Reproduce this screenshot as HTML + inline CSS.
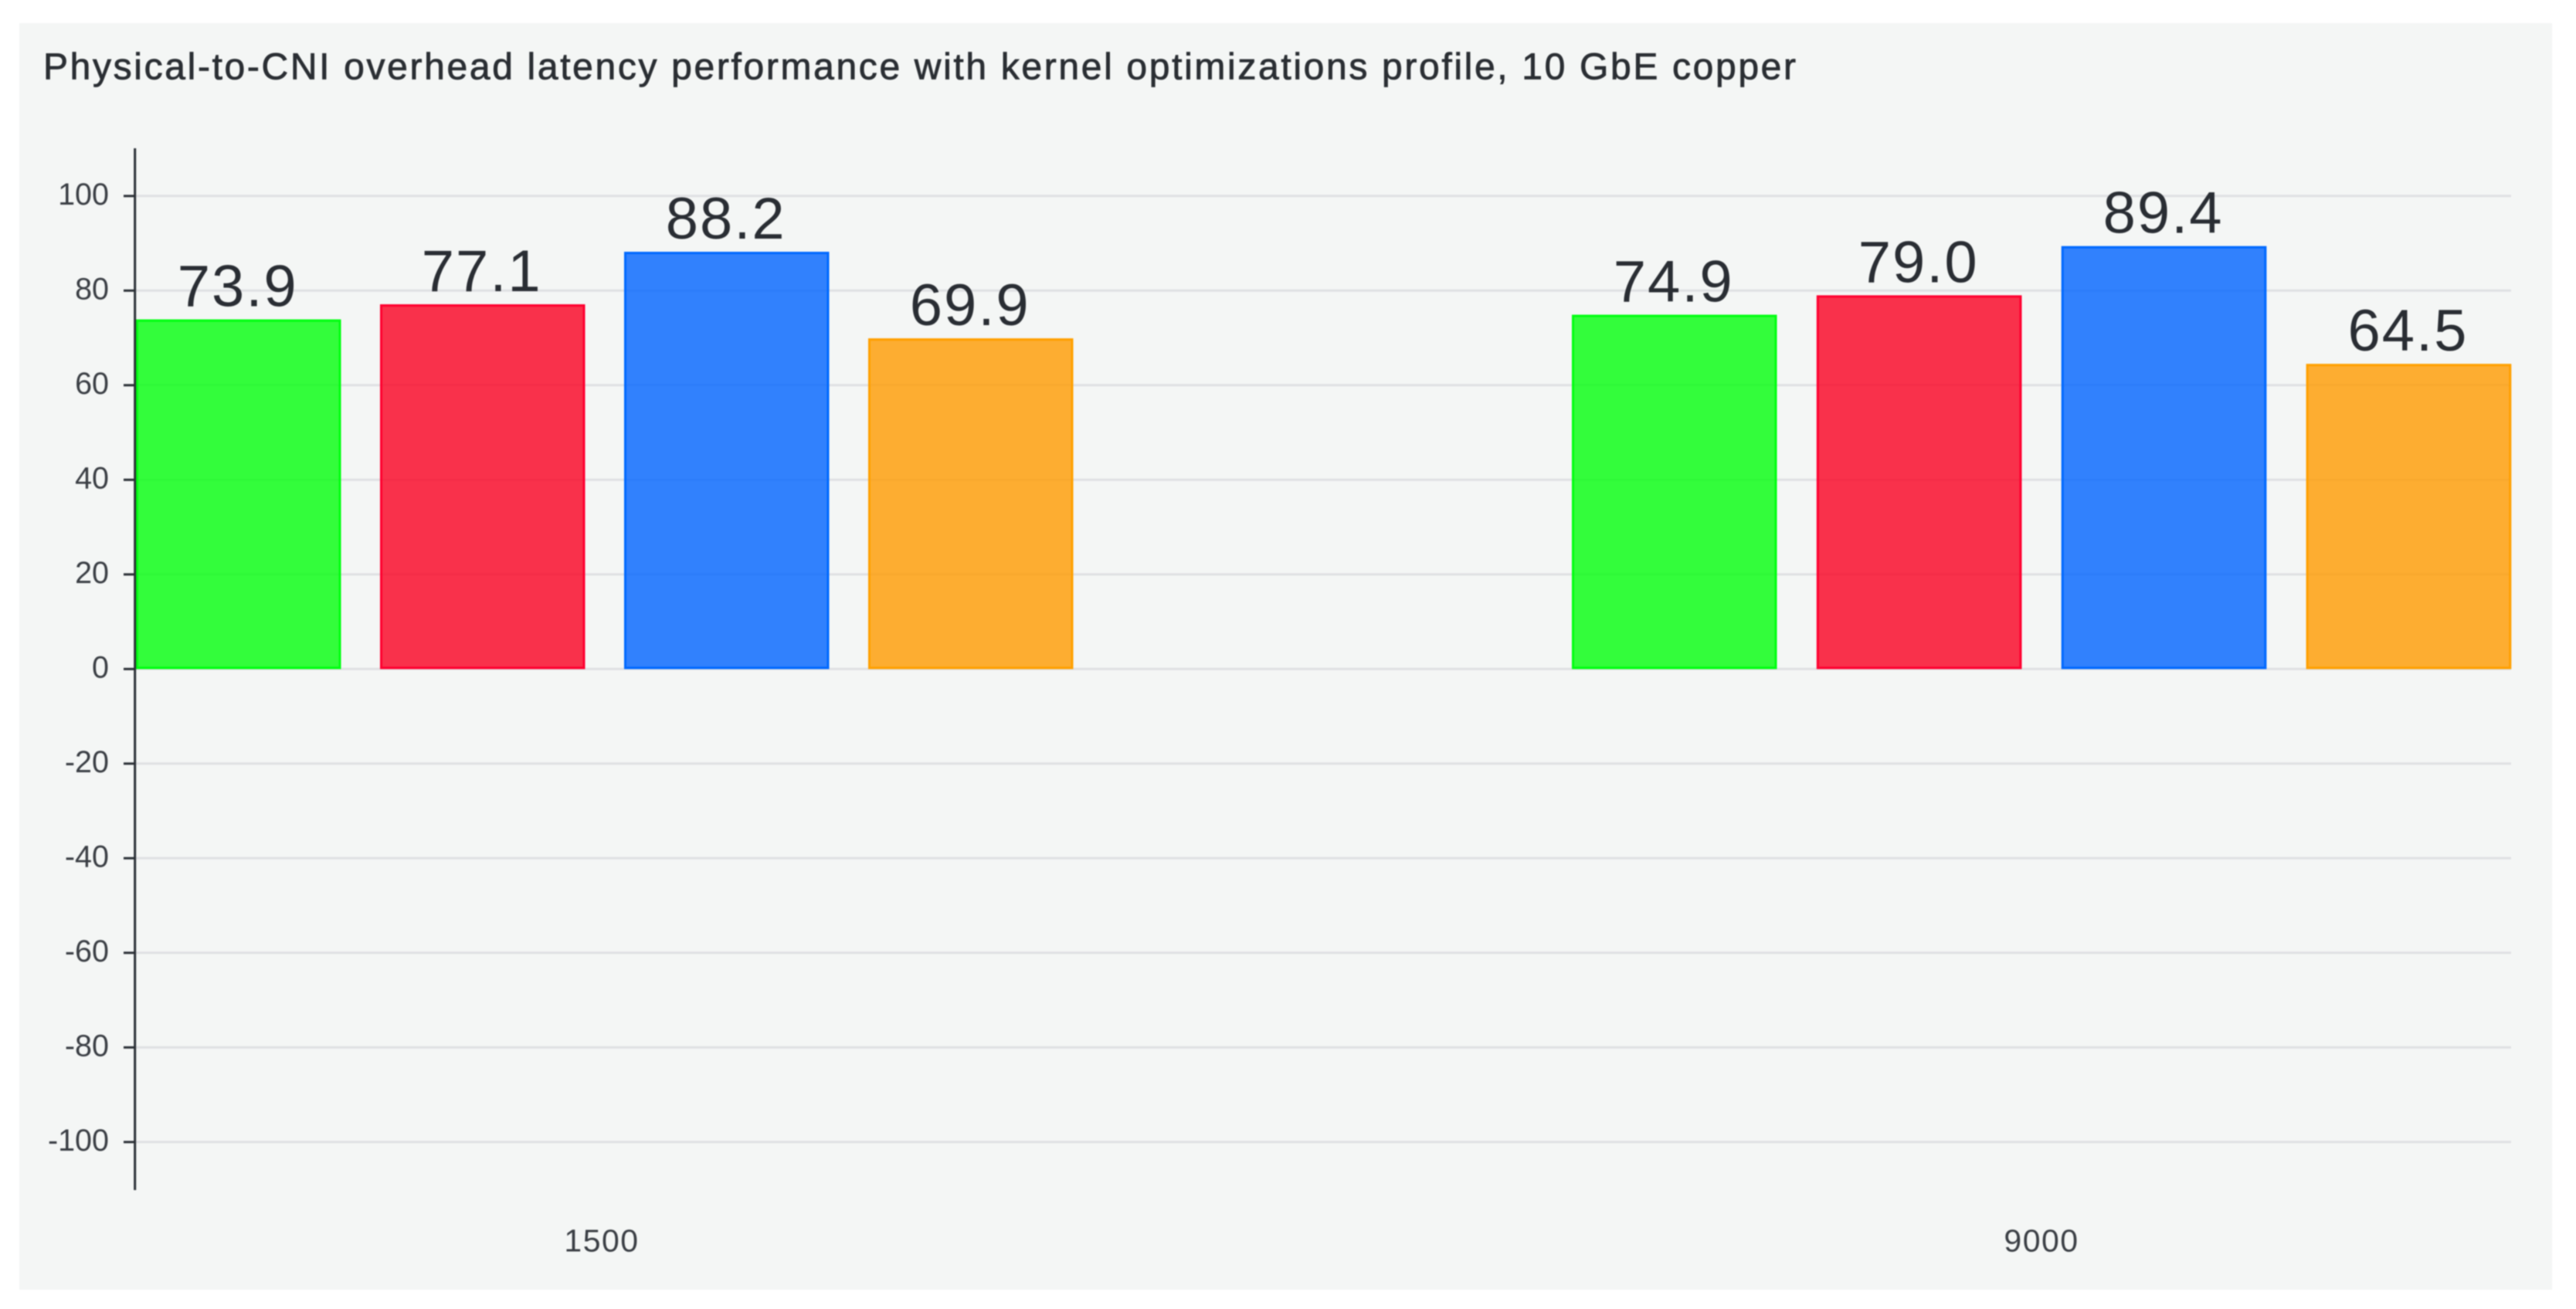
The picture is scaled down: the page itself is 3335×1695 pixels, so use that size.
<!DOCTYPE html>
<html lang="en">
<head>
<meta charset="utf-8">
<title>Physical-to-CNI overhead latency performance</title>
<style>
  html, body { margin: 0; padding: 0; background: #ffffff; width: 3335px; height: 1695px; overflow: hidden; }
  svg { display: block; filter: blur(0.7px); }
  text { font-family: "Liberation Sans", Arial, sans-serif; }
</style>
</head>
<body>
<svg id="chart" xmlns="http://www.w3.org/2000/svg" width="3335" height="1695" viewBox="0 0 3335 1695">
  <rect x="25" y="30" width="3279" height="1640" fill="#f4f6f5"></rect>
  <text x="56" y="102.5" font-size="48" fill="#2a2e33" stroke="#2a2e33" stroke-width="0.8" textLength="2269" lengthAdjust="spacing">Physical-to-CNI overhead latency performance with kernel optimizations profile, 10 GbE copper</text>
  <g id="grid"></g>
  <g id="bars"></g>
  <g id="labels"></g>
  <g id="y-axis"></g>
  <g id="x-axis"></g>
</svg>
<script>
const categories = ["1500", "9000"];
const seriesGreen = [73.9, 74.9];
const seriesRed = [77.1, 79.0];
const seriesBlue = [88.2, 89.4];
const seriesOrange = [69.9, 64.5];
const yTicks = [100, 80, 60, 40, 20, 0, -20, -40, -60, -80, -100];

const NS = "http://www.w3.org/2000/svg";
const allSeries = [
  { key: "green", values: seriesGreen, fill: "rgba(3,255,13,0.8)", stroke: "#00ff10" },
  { key: "red", values: seriesRed, fill: "rgba(250,0,32,0.8)", stroke: "#ff0030" },
  { key: "blue", values: seriesBlue, fill: "rgba(0,100,255,0.8)", stroke: "#0069ff" },
  { key: "orange", values: seriesOrange, fill: "rgba(255,155,0,0.8)", stroke: "#ffa000" }
];

function yScale(v) { return 866.3 - 6.125 * v; }
function groupStart(i) { return 176 + 1859 * i; }
function barX(i, j) { return groupStart(i) + (316 + 0.9 * i) * j; }
function categoryLabelX(i) { return 779 + 1864 * i; }
const barWidth = 265.5;
const plotLeft = 175;
const plotRight = 3251;

function make(tag, attrs, parent, text) {
  const el = document.createElementNS(NS, tag);
  for (const k in attrs) el.setAttribute(k, attrs[k]);
  if (text !== undefined) el.textContent = text;
  parent.appendChild(el);
  return el;
}

const gridG = document.getElementById("grid");
const barsG = document.getElementById("bars");
const labelsG = document.getElementById("labels");
const yG = document.getElementById("y-axis");
const xG = document.getElementById("x-axis");

yTicks.forEach(function (t) {
  const y = yScale(t);
  const line = make("line", { x1: plotLeft, x2: plotRight, y1: y, y2: y, stroke: "#dfe0e3", "stroke-width": 3 }, gridG);
  
  
  const tick = make("line", { x1: 160, x2: 175, y1: y, y2: y, stroke: "#2b3036", "stroke-width": 3 }, yG);
  
  
  const label = make("text", { x: 141, y: y + 11, "text-anchor": "end", "font-size": 39.5, fill: "#3a3e44" }, yG, String(t));
  
  
});

allSeries.forEach(function (s, j) {
  s.values.forEach(function (v, i) {
    const top = yScale(v);
    const bottom = yScale(0);
    const x = barX(i, j);
    const fillRect = make("rect", { x: x, y: top, width: barWidth, height: bottom - top, fill: s.fill }, barsG);
    
    
    const edge = make("rect", { x: x + 1.5, y: top + 1.5, width: barWidth - 3, height: bottom - top - 3, fill: "none", stroke: s.stroke, "stroke-width": 3 }, barsG);
    
    
    const lab = make("text", { x: x + barWidth / 2 - 1, y: top - 17, "text-anchor": "middle", "font-size": 76, "letter-spacing": 2, fill: "#292d33" }, labelsG, v.toFixed(1));
    
    
  });
});

const axisLine = make("line", { x1: 174.7, x2: 174.7, y1: 192, y2: 1541, stroke: "#2b3036", "stroke-width": 3 }, yG);



categories.forEach(function (c, i) {
  const t = make("text", { x: categoryLabelX(i), y: 1620.5, "text-anchor": "middle", "font-size": 41, "letter-spacing": 1.5, fill: "#3a3e44" }, xG, c);
  
  
});
</script>
</body>
</html>
